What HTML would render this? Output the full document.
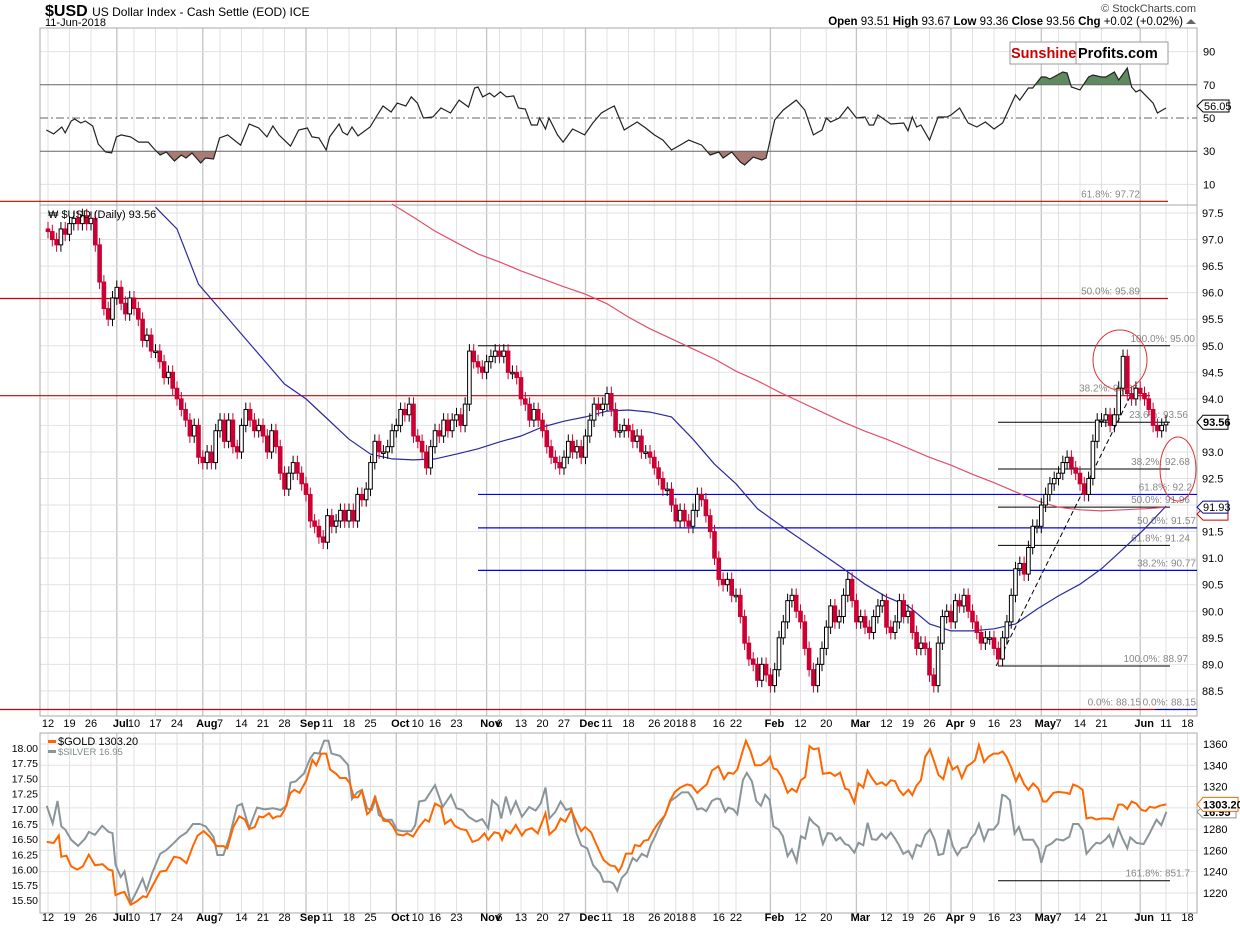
<!DOCTYPE html>
<html><head><meta charset="utf-8"><style>
html,body{margin:0;padding:0;background:#fff;}
svg{display:block;font-family:"Liberation Sans",Arial,sans-serif;}
</style></head><body>
<svg id="chart" width="1240" height="928" viewBox="0 0 1240 928" xmlns="http://www.w3.org/2000/svg">
<rect width="1240" height="928" fill="#fff"/>
<g id="grid"></g>
<g id="layer"></g>
<g id="texts">
<text x="45" y="16" font-size="16" font-weight="bold" fill="#000">$USD <tspan font-size="12" font-weight="normal">US Dollar Index - Cash Settle (EOD) ICE</tspan></text>
<text x="45" y="26" font-size="11" fill="#000">11-Jun-2018</text>
<text x="1196" y="12" font-size="11" fill="#444" text-anchor="end">© StockCharts.com</text>
<text x="1183" y="25" font-size="11.5" fill="#000" text-anchor="end"><tspan font-weight="bold">Open</tspan> 93.51  <tspan font-weight="bold">High</tspan> 93.67  <tspan font-weight="bold">Low</tspan> 93.36  <tspan font-weight="bold">Close</tspan> 93.56  <tspan font-weight="bold">Chg</tspan> +0.02 (+0.02%)</text>
<polygon points="1186,24 1196,24 1191,19" fill="#666"/>
<g>
<rect x="1010" y="42" width="158" height="22" fill="#fff" stroke="#999"/>
<line x1="1076" y1="42" x2="1076" y2="64" stroke="#999"/>
<text x="1011" y="58" font-size="14.5" font-weight="bold" fill="#cc0000">Sunshine</text>
<text x="1078" y="58" font-size="14.5" font-weight="bold" fill="#000">Profits.com</text>
</g>
<text x="48" y="218" font-size="11" fill="#000">₩ $USD (Daily) 93.56</text>
<text x="58" y="745" font-size="11" fill="#000">$GOLD 1303.20</text>
<rect x="48" y="740" width="8" height="3" fill="#ff6600"/>
<text x="58" y="755" font-size="9.5" fill="#7f8c8d">$SILVER 16.95</text>
<rect x="48" y="750" width="8" height="3" fill="#8a9599"/>
</g>
<script>
// ---------- data ----------
const priceCloses = [
97.15,97.0,96.9,97.2,97.1, 97.3,97.4,97.3,97.45,97.3, 97.4,96.9,96.2,95.7,95.5, 95.9,96.1,95.8,95.6,95.9,
95.7,95.5,95.1,95.2,94.9, 94.9,94.7,94.4,94.5,94.2, 94.0,93.8,93.6,93.3,93.5, 92.9,92.8,93.0,92.8,93.4,
93.6,93.2,93.6,93.1,93.0, 93.5,93.8,93.6,93.4,93.5, 93.3,93.0,93.4,93.1,92.6, 92.3,92.6,92.8,92.6,92.4,
92.2,91.7,91.6,91.4,91.3, 91.8,91.6,91.7,91.9,91.7, 91.9,91.7,92.2,92.1,92.3, 92.8,93.2,93.0,93.0,93.1,
93.4,93.5,93.8,93.7,93.9, 93.3,93.2,93.0,92.7,93.1, 93.4,93.3,93.6,93.4,93.6, 93.7,93.5,93.9,94.9,94.7,
94.6,94.5,94.7,94.8,94.9, 94.8,94.9,94.5,94.5,94.4, 94.0,93.9,93.6,93.8,93.6, 93.4,93.1,92.9,92.8,92.7,
92.9,93.2,93.0,93.1,92.9, 93.3,93.6,93.9,93.8,93.9, 94.1,93.8,93.4,93.4,93.5, 93.4,93.2,93.3,93.0,93.0,
92.9,92.7,92.5,92.3,92.3, 92.0,91.7,91.9,91.7,91.6, 91.9,92.2,92.1,91.8,91.5, 91.0,90.6,90.5,90.6,90.3,
90.3,89.9,89.4,89.1,89.0, 88.7,89.0,88.8,88.6,88.9, 89.5,89.8,90.2,90.3,90.0, 89.8,89.3,88.9,88.6,89.0,
89.3,89.7,90.1,89.8,89.9, 90.3,90.6,90.2,89.8,89.9, 89.7,89.6,89.9,90.1,90.2, 89.7,89.6,89.8,90.2,89.9,
90.0,89.6,89.3,89.4,89.3, 88.8,88.6,89.4,89.9,90.0, 89.8,90.2,90.1,90.3,90.0, 89.8,89.6,89.4,89.5,89.5,
89.3,89.1,89.5,89.8,90.3, 90.8,90.9,90.7,91.2,91.6, 91.6,92.0,92.2,92.4,92.5, 92.6,92.8,92.9,92.7,92.6,
92.4,92.2,92.5,93.2,93.6, 93.6,93.7,93.5,93.7,94.2, 94.8,94.1,94.0,94.2,94.1, 94.0,93.8,93.5,93.4,93.5,
93.56];
const ma50Values = [97.61,97.2,96.16,95.69,95.22,94.75,94.28,94.0,93.62,93.24,92.96,92.87,92.85,92.87,92.96,93.06,93.19,93.3,93.47,93.58,93.66,93.77,93.79,93.75,93.66,93.24,92.77,92.4,91.93,91.64,91.36,91.08,90.8,90.51,90.27,90.1,89.76,89.63,89.63,89.67,89.76,90.04,90.29,90.51,90.8,91.17,91.55,91.98];
const ma50StartWeek = 5;
const ma200Values = [97.67,97.42,97.16,96.94,96.73,96.58,96.41,96.26,96.11,95.97,95.79,95.54,95.32,95.13,94.94,94.75,94.52,94.34,94.13,93.94,93.75,93.56,93.39,93.24,93.07,92.9,92.75,92.58,92.42,92.25,92.08,91.96,91.91,91.89,91.91,91.93,91.96];
const ma200StartWeek = 16;
const rsiDays = [-0.4,1.3,3.2,4.0,5.4,6.2,7.6,8.7,10.4,11.7,13.4,14.8,15.9,17.0,19.2,21.1,23.3,24.7,26.1,27.5,29.4,31.0,32.1,33.5,35.5,36.6,38.5,39.9,41.8,44.8,46.8,49.0,50.9,52.3,53.7,56.4,58.3,60.3,61.4,63.0,64.7,65.5,67.7,68.5,69.6,70.7,72.1,74.9,76.3,77.9,79.8,81.2,83.2,84.5,85.9,87.3,89.5,91.4,93.6,95.6,97.8,99.2,100.0,101.1,102.7,103.8,105.2,106.6,108.3,109.4,111.0,112.4,113.8,114.3,115.7,116.5,118.5,119.8,122.0,124.8,126.7,128.7,130.3,131.7,
134,137,139,141,143,145,147,149,152,154,156,157,159,161,162,164,166,167,169,171,174,176,178,
180,181,182,184,186,188,190,191,192,193,194,196,199,200,201,202,203,205,207,209,210,212,214,216,218,220,222,225,226,228,229,231,232,233,236,237,238,240,242,243,245,246,248,249,251,252,253,254,257,258,260];
const rsiValues = [42.8,40.4,44.6,41,48.2,49.4,47,48.2,45.2,34.3,29.5,28.9,38.6,39.8,38.6,35.5,35.5,31.3,27.7,29.5,24.1,27.7,25.9,28.9,22.9,25.9,25.3,38,39.8,33.7,46.4,44,38.6,45.2,39.8,33.1,42.8,44,38.6,38,30.7,38.6,46.4,41.5,39.8,44.6,39.2,44.6,50.6,57.2,53.6,59,57.2,62.7,59,50,50.6,56,53,60.8,56.6,68.1,68.7,62.7,65,62.7,65.7,62.7,63.3,56,55.4,45.8,45.8,50,43.4,50,39.8,35.5,43.4,39.8,47,53,55.4,57.2,
42.8,47.6,44,39.8,36.7,30.7,33.7,36.7,33.7,27.7,29.5,25.9,29.5,23.5,21.7,26.5,24.7,25.9,48.8,54.8,60.8,54.8,39.8,
42.8,50,47.6,50,56.6,50,50.6,45.8,45.8,51.8,50,46.4,47,42.2,50.6,44.6,45.8,36.7,50.6,50.6,51.8,56,47,44.6,47.6,43.4,47,63.9,60.8,68.1,68.1,74.7,74.7,73.5,77.7,77.1,68.7,66.9,74.7,75.9,74.7,74.7,77.7,72.9,80.1,68.7,65.7,66.9,59,53,56.05];
const goldDays = [-0.3,1.3,2.5,3.1,4.3,5.4,6.8,8.1,9.5,10.9,12.7,14.1,15.0,15.7,16.9,17.8,19.2,20.6,22.1,22.9,24.2,26.1,27.5,29.3,30.7,32.2,33.7,34.8,36.2,37.6,39.2,40.8,41.7,43.1,44.5,45.8,46.8,48.1,49.1,50.0,51.4,52.3,53.2,54.1,55.0,56.4,57.3,58.5,60.1,61.5,62.4,63.5,64.7,65.6,67.0,67.9,69.3,70.2,71.1,72.1,73.0,74.2,74.8,76.0,77.1,78.0,79.4,80.3,81.2,82.6,83.5,84.9,86.3,87.7,88.6,90.0,91.4,92.3,93.7,94.6,96.0,97.3,98.7,100.1,101.5,102.4,103.8,104.9,105.6,106.5,107.5,108.8,110.2,111.1,112.5,113.9,115.7,116.6,118.0,119.2,120.3,121.7,122.6,124.0,124.9,126.3,127.7,
129.2,130.7,131.9,132.7,133.4,134.4,135.8,136.5,137.7,138.6,139.6,140.8,142.0,143.5,144.7,145.8,147.0,148.6,149.7,151.0,152.0,153.2,154.4,155.9,157.2,158.2,159.4,160.3,161.6,162.3,163.4,164.4,165.8,167.2,167.9,168.7,169.5,170.6,172.0,173.0,174.1,175.1,176.1,177.1,178.0,179.2,180.2,181.9,183.0,184.2,185.4,186.2,187.5,188.5,189.6,190.6,191.6,192.7,193.9,194.9,196.0,197.0,197.9,198.9,200.1,201.0,202.0,203.0,204.0,205.1,206.2,207.1,208.2,209.4,210.4,211.5,212.5,213.7,214.8,215.6,216.5,217.7,218.7,219.9,221.0,
222.0,222.9,224.1,225.1,225.9,227.0,228.0,229.1,230.3,231.4,232.2,233.8,234.9,236.9,237.6,238.4,239.6,240.6,241.5,242.7,243.8,245.0,246.5,247.7,248.9,249.9,251.0,252.0,253.1,254.3,255.3,256.2,257.4,258.6,260.1];
const goldValues = [1268,1267,1274,1254,1255,1245,1242,1245,1256,1246,1247,1242,1241,1218,1220,1221,1209,1212,1217,1216,1226,1240,1241,1254,1253,1248,1264,1274,1278,1273,1264,1264,1262,1282,1292,1289,1280,1282,1292,1291,1295,1290,1292,1292,1298,1314,1317,1314,1326,1345,1340,1351,1351,1336,1332,1328,1328,1323,1310,1310,1316,1294,1296,1310,1298,1288,1287,1282,1275,1274,1276,1273,1282,1289,1287,1304,1301,1285,1289,1283,1280,1279,1268,1270,1276,1270,1277,1276,1270,1279,1276,1284,1274,1279,1281,1276,1295,1275,1280,1290,1287,1298,1289,1278,1282,1277,1264,
1251,1246,1245,1240,1245,1257,1257,1265,1264,1269,1270,1279,1286,1293,1307,1315,1319,1322,1321,1314,1318,1322,1335,1339,1327,1333,1332,1336,1354,1363,1353,1340,1340,1344,1348,1337,1336,1329,1314,1318,1315,1326,1329,1358,1355,1356,1332,1333,1330,1333,1318,1317,1305,1323,1319,1335,1328,1322,1324,1321,1326,1325,1317,1312,1317,1312,1321,1326,1348,1355,1342,1331,1327,1346,1336,1339,1328,1339,1342,1345,1359,1343,1348,1351,1351,
1353,1348,1337,1325,1332,1322,1317,1323,1318,1306,1306,1314,1315,1314,1313,1322,1320,1317,1290,1291,1289,1290,1290,1289,1303,1303,1299,1306,1304,1298,1297,1301,1300,1302,1303.2];
const silverDays = [-0.3,1.1,2.2,3.1,4.0,5.4,7.0,8.6,9.5,10.9,12.6,14.1,15.0,15.7,16.9,17.8,19.2,20.6,22.0,22.9,24.2,26.1,27.5,29.3,30.7,32.2,33.7,35.3,36.7,38.5,39.4,40.8,42.2,44.0,45.1,46.8,48.6,50.4,52.3,54.1,55.5,56.4,57.6,59.5,61.0,61.9,63.1,64.2,65.2,65.9,67.9,69.8,70.7,71.9,73.0,74.2,75.3,76.2,76.9,78.5,79.9,81.2,82.6,84.5,85.4,86.3,87.7,90.0,91.8,93.7,95.0,96.4,97.8,99.6,101.0,102.4,103.3,104.7,105.4,106.5,107.6,108.8,110.2,111.9,113.4,114.6,115.7,116.6,118.0,119.2,120.5,121.7,122.9,124.0,125.4,126.8,
128.4,129.2,130.7,131.5,132.4,133.4,134.6,136.0,136.9,138.1,139.3,140.2,141.2,142.2,143.5,144.8,146.2,147.4,148.9,149.9,151.0,152.0,153.1,154.4,155.5,156.3,157.5,158.2,159.4,160.3,161.6,162.5,163.7,164.7,165.8,166.8,167.8,168.7,169.9,170.9,172.0,173.0,174.1,175.1,176.1,177.1,178.0,179.2,180.2,181.3,182.3,183.3,184.2,185.4,186.2,187.5,188.5,189.6,190.6,191.6,192.7,193.9,194.9,196.0,197.0,197.9,198.9,200.1,201.0,202.0,203.0,204.0,205.1,206.2,207.1,208.2,209.4,210.4,211.5,212.5,213.7,214.8,215.6,216.5,217.7,218.7,219.9,221.0,221.9,222.7,
223.7,224.8,225.8,226.8,228.0,229.1,230.3,231.0,232.1,233.4,234.5,236.1,237.5,238.4,239.6,240.6,241.5,242.9,243.8,244.8,246.0,246.8,247.7,248.9,249.9,251.0,251.7,253.1,254.8,256.2,257.8,258.9,260.1];
const silverValues = [17.05,16.76,17.13,16.71,16.66,16.49,16.39,16.51,16.62,16.57,16.72,16.62,16.6,16.08,15.88,15.97,15.45,15.64,15.85,15.66,15.94,16.26,16.32,16.44,16.54,16.61,16.75,16.75,16.71,16.54,16.24,16.24,16.54,17.05,17.08,16.68,17.02,16.99,17.01,16.98,17.05,17.43,17.45,17.58,17.83,17.92,17.91,18.12,18.12,17.91,17.87,17.72,17.16,17.27,17.31,17.01,16.98,17.17,16.9,16.82,16.82,16.65,16.63,16.63,16.73,17.12,17.14,17.39,17.03,17.23,17.01,16.98,16.87,16.79,16.83,16.68,17.14,17.05,16.84,17.2,16.93,17.12,16.87,17.03,16.97,17.09,17.35,16.84,16.95,17.12,16.98,17.01,16.6,16.4,16.35,16.07,
15.94,15.8,15.8,15.77,15.65,15.86,15.95,16.19,16.14,16.26,16.21,16.41,16.55,16.71,16.9,17.13,17.2,17.27,17.27,17.17,16.99,17.01,16.96,17.13,17.17,17.16,16.95,17.02,16.99,16.91,17.47,17.59,17.45,17.13,17.05,17.23,17.15,16.71,16.66,16.55,16.22,16.33,16.13,16.55,16.51,16.85,16.77,16.7,16.42,16.6,16.59,16.48,16.53,16.42,16.4,16.28,16.44,16.4,16.77,16.5,16.49,16.59,16.51,16.61,16.51,16.4,16.26,16.31,16.19,16.41,16.38,16.57,16.66,16.49,16.24,16.26,16.66,16.39,16.24,16.35,16.37,16.53,16.59,16.75,16.48,16.66,16.66,16.76,17.23,17.21,
17.14,16.59,16.7,16.49,16.49,16.49,16.35,16.11,16.38,16.43,16.5,16.48,16.54,16.75,16.75,16.65,16.26,16.38,16.44,16.43,16.5,16.57,16.39,16.68,16.51,16.35,16.53,16.44,16.42,16.6,16.82,16.73,16.95];
const tickDays = [0,5,10,16,20,25,30,36,40,45,50,55,60,65,70,75,81,86,90,95,102,105,110,115,120,125,130,135,141,146,150,156,160,168,175,181,188,195,200,205,210,215,220,225,231,235,240,245,254,260,265];
const tickLabels = ['12','19','26','Jul','10','17','24','Aug','7','14','21','28','Sep','11','18','25','Oct','10','16','23','Nov','6','13','20','27','Dec','11','18','26','2018','8','16','22','Feb','12','20','Mar','12','19','26','Apr','9','16','23','May','7','14','21','Jun','11','18'];
const priceTicks = [97.5,97.0,96.5,96.0,95.5,95.0,94.5,94.0,93.5,93.0,92.5,92.0,91.5,91.0,90.5,90.0,89.5,89.0,88.5];
const rsiTicks = [90,70,50,30,10];
const silverTicks = [18.00,17.75,17.50,17.25,17.00,16.75,16.50,16.25,16.00,15.75,15.50];
const goldTicks = [1360,1340,1320,1300,1280,1260,1240,1220];

// ---------- scales ----------
const PL=40, PR=1197;
const xD = d => 48 + d*4.3;
const yR = v => 118 - (v-50)*1.66;
const yP = v => 213 + (97.5-v)*53.1;
const yS = v => 748 + (18-v)*60.8;
const yG = v => 744 + (1360-v)*1.064;
const NS='http://www.w3.org/2000/svg';
const grid=document.getElementById('grid'), L=document.getElementById('layer');
function mk(tag,attrs,parent){const e=document.createElementNS(NS,tag);for(const k in attrs)e.setAttribute(k,attrs[k]);(parent||L).appendChild(e);return e;}
function txt(x,y,s,attrs,parent){const e=mk('text',Object.assign({x:x,y:y,'font-size':11,fill:'#000'},attrs||{}),parent);e.textContent=s;return e;}

const panels=[[28,205],[205,716],[733,913]];
// vertical grid
tickDays.forEach((d,i)=>{
  const bold=isNaN(+tickLabels[i]);
  panels.forEach(p=>{
    const g=mk('line',{x1:xD(d),x2:xD(d),y1:p[0],y2:p[1],stroke:bold?'#c4c4c4':'#e2e2e2','stroke-width':bold?1.3:1},grid);
    
    
  });
});
// horizontal grid
[90,10].forEach(v=>mk('line',{x1:PL,x2:PR,y1:yR(v),y2:yR(v),stroke:'#e2e2e2'},grid));
priceTicks.forEach(v=>mk('line',{x1:PL,x2:PR,y1:yP(v),y2:yP(v),stroke:'#e2e2e2'},grid));
goldTicks.forEach(v=>mk('line',{x1:PL,x2:PR,y1:yG(v),y2:yG(v),stroke:'#e2e2e2'},grid));
// panel frames
panels.forEach(p=>{const r=mk('rect',{x:PL,y:p[0],width:PR-PL,height:p[1]-p[0],fill:'none',stroke:'#aaa'});

});

// ---------- RSI ----------
const rsiPts=rsiDays.map((d,i)=>[xD(Math.max(d,-1.8)),yR(rsiValues[i])]);
const defs=mk('defs',{});
const c1=mk('clipPath',{id:'above70'},defs);mk('rect',{x:0,y:0,width:1240,height:yR(70)},c1);
const c2=mk('clipPath',{id:'below30'},defs);mk('rect',{x:0,y:yR(30),width:1240,height:200},c2);
const poly=pts=>pts.map(p=>p[0].toFixed(1)+','+p[1].toFixed(1)).join(' ');
const fa=mk('polygon',{points:poly(rsiPts)+` ${rsiPts[rsiPts.length-1][0]},${yR(70)} ${rsiPts[0][0]},${yR(70)}`,fill:'#5f8a5f','clip-path':'url(#above70)'});


const fb=mk('polygon',{points:poly(rsiPts)+` ${rsiPts[rsiPts.length-1][0]},${yR(30)} ${rsiPts[0][0]},${yR(30)}`,fill:'#a87b74','clip-path':'url(#below30)'});


[70,30].forEach(v=>{const l=mk('line',{x1:PL,x2:PR,y1:yR(v),y2:yR(v),stroke:'#666'});

});
const l50=mk('line',{x1:PL,x2:PR,y1:yR(50),y2:yR(50),stroke:'#666','stroke-dasharray':'8,3,2,3'});


const rl=mk('polyline',{points:poly(rsiPts),fill:'none',stroke:'#222','stroke-width':1.2});


rsiTicks.forEach(v=>{const t=txt(1203,yR(v)+4,String(v),{'font-size':11});

});
const rb=mk('polygon',{points:`1197,106 1203,100 1229,100 1229,112 1203,112`,fill:'#fff',stroke:'#000'});


txt(1204,110,'56.05',{'font-size':11});

// ---------- price panel lines ----------
function hline(y,x1,x2,col,name,w){const l=mk('line',{x1:x1,x2:x2,y1:y,y2:y,stroke:col,'stroke-width':w||1});

}
hline(yP(97.72),0,1168,'#cc0000','fib-97-72-line',1.2);
hline(yP(95.89),0,1168,'#cc0000','fib-95-89-line',1.2);
hline(yP(94.06),0,1150,'#cc0000','fib-94-06-line',1.2);
hline(yP(88.15),0,1155,'#cc0000','fib-88-15-line',1.2);
hline(yP(88.15),1155,PR,'#0000dd','fib-88-15-blue-line',1.2);
hline(yP(95.0),478,1170,'#000','fib-95-00-line');
hline(yP(92.2),478,PR,'#0000ee','support-92-2-line',1.2);
hline(yP(91.57),478,PR,'#0000ee','support-91-57-line',1.2);
hline(yP(90.77),478,PR,'#0000ee','support-90-77-line',1.2);
[93.56,92.68,91.96,91.24,88.97].forEach(v=>hline(yP(v),998,1170,'#000','fib-level-line'));
const fibLabels=[[97.72,'61.8%: 97.72',1140],[95.89,'50.0%: 95.89',1140],[95.0,'100.0%: 95.00',1195],[94.06,'38.2%: 94.06',1138],[93.56,'23.6%: 93.56',1188],[92.68,'38.2%: 92.68',1190],[92.2,'61.8%: 92.2',1192],[91.96,'50.0%: 91.96',1190],[91.57,'50.0%: 91.57',1196],[91.24,'61.8%: 91.24',1190],[90.77,'38.2%: 90.77',1196],[88.97,'100.0%: 88.97',1188],[88.15,'0.0%: 88.15',1141],[88.15,'0.0%: 88.15',1196]];
fibLabels.forEach(f=>{const t=txt(f[2],yP(f[0])-4,f[1],{'font-size':10,fill:'#888','text-anchor':'end'});

});

// moving averages
const ma200Pts=ma200Values.map((v,i)=>[xD((ma200StartWeek+i)*5),yP(v)]);
const m2=mk('polyline',{points:poly(ma200Pts),fill:'none',stroke:'#e0506a','stroke-width':1.2});


const ma50Pts=ma50Values.map((v,i)=>[xD((ma50StartWeek+i)*5),yP(v)]);
const m1=mk('polyline',{points:poly(ma50Pts),fill:'none',stroke:'#2a2aa0','stroke-width':1.2});



// trendline
const tl=mk('line',{x1:xD(220.5),y1:yP(88.97),x2:xD(252),y2:yP(94.1),stroke:'#000','stroke-dasharray':'5,3'});



// candles
priceCloses.forEach((c,i)=>{
  const o=i===0?97.2:(i===priceCloses.length-1?93.51:priceCloses[i-1]);
  const hi=Math.max(o,c)+0.13, lo=Math.min(o,c)-0.13;
  const x=xD(i), up=c>=o;
  const g=mk('g',{});
  
  
  mk('line',{x1:x,x2:x,y1:yP(hi),y2:yP(lo),stroke:up?'#000':'#cc0033'},g);
  const top=yP(Math.max(o,c)),h=Math.max(1.5,yP(Math.min(o,c))-top);
  mk('rect',{x:x-1.8,y:top,width:3.6,height:h,fill:up?'#fff':'#cc0033',stroke:up?'#000':'#cc0033','stroke-width':1},g);
});

// red circles
const e1=mk('ellipse',{cx:1120,cy:360,rx:27,ry:30,fill:'none',stroke:'#dd3333'});


const e2=mk('ellipse',{cx:1178,cy:469,rx:18,ry:32,fill:'none',stroke:'#dd3333'});



// price axis
priceTicks.forEach(v=>{const t=txt(1202,yP(v)+4,v.toFixed(1),{'font-size':11});

});
const pb=mk('polygon',{points:`1197,${yP(93.56)} 1203,${yP(93.56)-7} 1228,${yP(93.56)-7} 1228,${yP(93.56)+7} 1203,${yP(93.56)+7}`,fill:'#fff',stroke:'#000'});


txt(1203,yP(93.56)+4,'93.56',{'font-size':11,'font-weight':'bold'});
const rb2=mk('polygon',{points:`1197,${yP(91.83)} 1203,${yP(91.83)-6} 1228,${yP(91.83)-6} 1228,${yP(91.83)+6} 1203,${yP(91.83)+6}`,fill:'#fff',stroke:'#cc0000'});


const bb=mk('polygon',{points:`1197,${yP(91.96)} 1203,${yP(91.96)-6} 1228,${yP(91.96)-6} 1228,${yP(91.96)+6} 1203,${yP(91.96)+6}`,fill:'#fff',stroke:'#000080'});


txt(1203,yP(91.96)+4,'91.93',{'font-size':11});

// date axes
[727,921].forEach(y=>{
  tickDays.forEach((d,i)=>{
    const bold=isNaN(+tickLabels[i]);
    const t=txt(xD(d)+(bold?4:0),y,tickLabels[i],{'font-size':11,'font-weight':bold?'bold':'normal','text-anchor':'middle'});
    
    
  });
});

// ---------- gold / silver ----------
const sv=mk('polyline',{points:poly(silverDays.map((d,i)=>[xD(Math.max(d,-1.8)),yS(silverValues[i])])),fill:'none',stroke:'#8a9599','stroke-width':2});


const gd=mk('polyline',{points:poly(goldDays.map((d,i)=>[xD(Math.max(d,-1.8)),yG(goldValues[i])])),fill:'none',stroke:'#ff6600','stroke-width':2});


hline(yG(1231.5),998,1170,'#000','fib-161-8-line');
const f161=txt(1190,yG(1231.5)-4,'161.8%: 851.7',{'font-size':10,fill:'#888','text-anchor':'end'});


silverTicks.forEach(v=>{const t=txt(38,yS(v)+4,v.toFixed(2),{'font-size':10.5,'text-anchor':'end'});

});
goldTicks.forEach(v=>{const t=txt(1203,yG(v)+4,String(v),{'font-size':11});

});
const sb=mk('polygon',{points:`1197,${yS(16.95)} 1203,${yS(16.95)-6} 1236,${yS(16.95)-6} 1236,${yS(16.95)+6} 1203,${yS(16.95)+6}`,fill:'#fff',stroke:'#8a9599'});


txt(1203,yS(16.95)+4,'16.95',{'font-size':11,'font-weight':'bold'});
const gb=mk('polygon',{points:`1197,${yG(1303.2)} 1203,${yG(1303.2)-7} 1238,${yG(1303.2)-7} 1238,${yG(1303.2)+7} 1203,${yG(1303.2)+7}`,fill:'#fff',stroke:'#ff6600'});


txt(1203,yG(1303.2)+4,'1303.20',{'font-size':11,'font-weight':'bold'});
</script>
</svg>
</body></html>
